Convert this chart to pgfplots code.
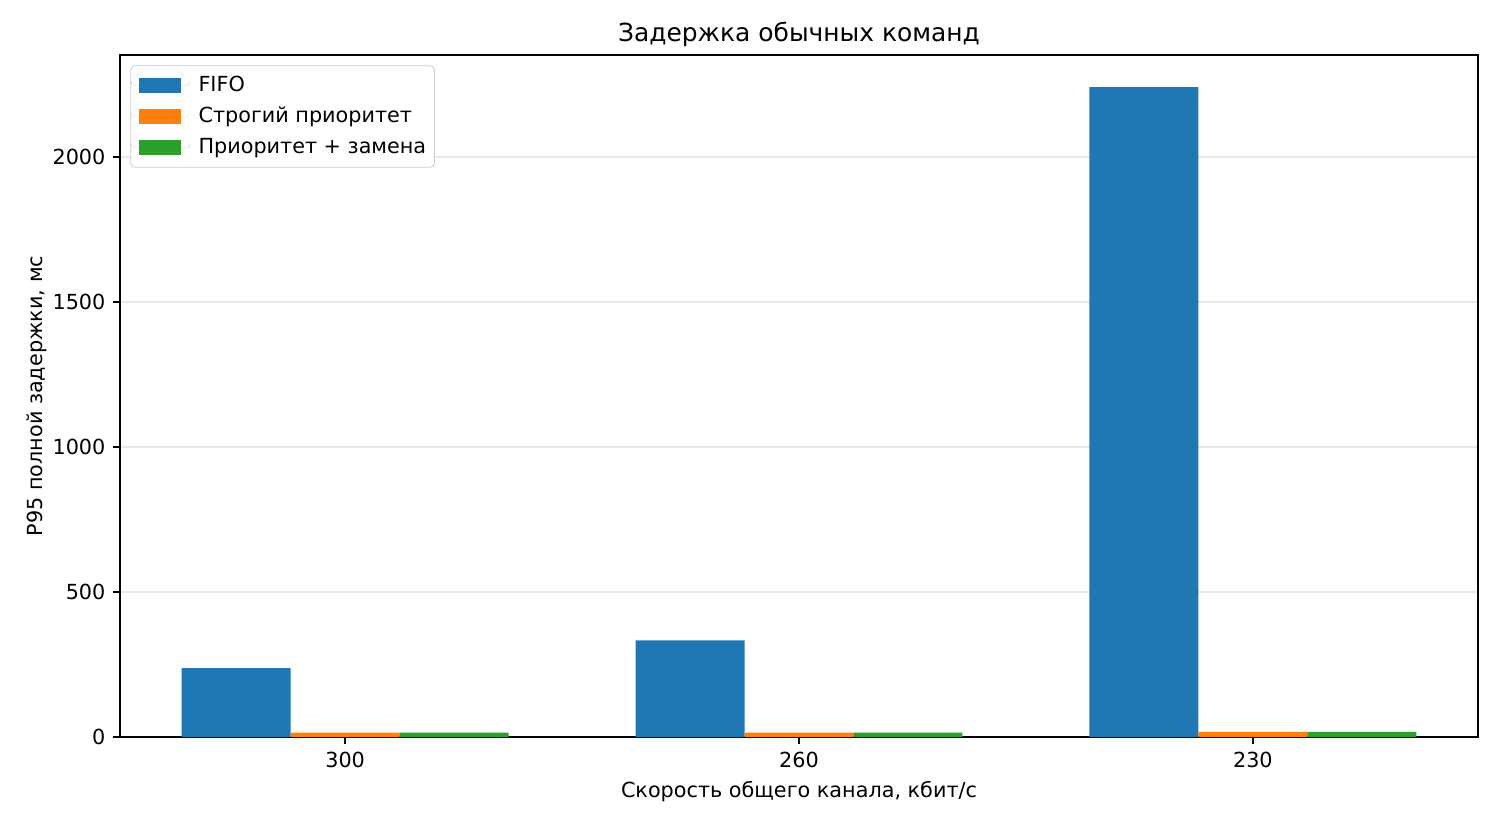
\documentclass[border=0pt]{standalone}
\usepackage{pgfplots}
\pgfplotsset{compat=1.18}
\usepackage{fontspec}
\setmainfont{DejaVu Sans}
\definecolor{tabblue}{HTML}{1F77B4}
\definecolor{taborange}{HTML}{FF7F0E}
\definecolor{tabgreen}{HTML}{2CA02C}
\begin{document}
\begin{tikzpicture}
\path[use as bounding box] (-57.6bp,-42.24bp) rectangle (662.4bp,353.76bp);
\begin{axis}[
  name=main,
  at={(0,0)}, anchor=south west,
  scale only axis,
  width=651.84bp, height=327.36bp,
  xmin=-0.496, xmax=2.496,
  ymin=0, ymax=2351,
  xtick={0,1,2},
  xticklabels={300,260,230},
  ytick={0,500,1000,1500,2000},
  xtick pos=bottom, ytick pos=left,
  tick align=outside,
  major tick length=3.5bp,
  every tick/.style={line width=0.8bp, black},
  tick label style={font=\fontsize{10}{12}\selectfont},
  /pgf/number format/assume math mode=true,
  /pgf/number format/1000 sep={},
  scaled y ticks=false,
  ymajorgrids,
  grid style={line width=0.8bp, gray!18},
  axis line style={line width=0.8bp, black},
  xlabel={Скорость общего канала, кбит/с},
  ylabel={P95 полной задержки, мс},
  label style={font=\fontsize{10}{12}\selectfont},
  xlabel style={yshift=0bp},
  ylabel style={yshift=-4bp},
  legend style={at={(0,1)}, anchor=north west, xshift=5bp, yshift=-5bp,
    draw=gray!40, rounded corners=2bp, font=\fontsize{10}{12}\selectfont,
    row sep=2bp, inner xsep=0bp, inner ysep=3bp,
    nodes={inner xsep=4bp}},
  legend cell align=left,
  legend image code/.code={\path (0bp,0bp) rectangle (28.5bp,0bp);\fill[#1, sharp corners] (4bp,-3.5bp) rectangle (24bp,3.5bp);},
]
\addplot[ybar, bar width=0.24, bar shift=-0.24, fill=tabblue, draw=none] coordinates {(0,237) (1,333) (2,2240)};
\addlegendentry{FIFO}
\addplot[ybar, bar width=0.24, bar shift=0, fill=taborange, draw=none] coordinates {(0,15) (1,15) (2,18)};
\addlegendentry{Строгий приоритет}
\addplot[ybar, bar width=0.24, bar shift=0.24, fill=tabgreen, draw=none] coordinates {(0,15) (1,15) (2,18)};
\addlegendentry{Приоритет + замена}
\end{axis}
\node[anchor=base, font=\fontsize{12}{14}\selectfont] at ([yshift=6.5bp]main.north) {Задержка обычных команд};
\end{tikzpicture}
\end{document}
